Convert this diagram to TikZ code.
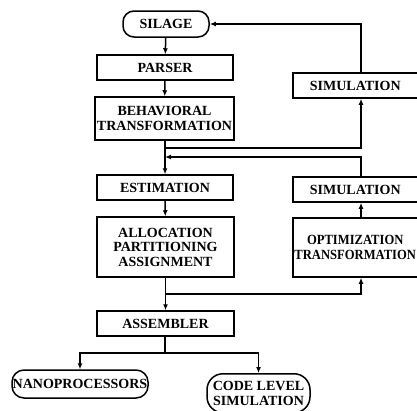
\documentclass[tikz,border=0pt]{standalone}
\usepackage{fontspec}
\usepackage{graphicx}
\setmainfont{Liberation Serif}
\usetikzlibrary{arrows.meta}
\begin{document}
\begin{tikzpicture}[x=1pt,y=-1pt,
  every node/.style={font=\fontsize{14}{14.5}\selectfont\bfseries, align=center, inner sep=0pt},
  box/.style={draw, line width=1.5pt, rectangle},
  term/.style={draw, line width=1.5pt, rounded corners=11pt},
  conn/.style={line width=1.5pt, -{Latex[length=6pt,width=5pt]}},
  plain/.style={line width=1.5pt}]
\useasboundingbox (0,0) rectangle (417,410);
\clip (0,0) rectangle (417,410);
\node[term, minimum width=86pt, minimum height=26pt] (silage) at (166,24) {SILAGE};
\node[box, minimum width=136pt, minimum height=25pt] (parser) at (165,67.5) {PARSER};
\node[box, minimum width=139pt, minimum height=43pt] (behav) at (164.5,118.5) {BEHAVIORAL\\TRANSFORMATION};
\node[box, minimum width=136pt, minimum height=25pt] (est) at (165,187.5) {ESTIMATION};
\node[box, minimum width=137pt, minimum height=60pt] (alloc) at (165.5,247) {ALLOCATION\\PARTITIONING\\ASSIGNMENT};
\node[box, minimum width=137pt, minimum height=25pt] (asm) at (165.5,323.5) {ASSEMBLER};
\node[box, minimum width=140pt, minimum height=25pt, anchor=west] (sim1) at (292,85.5) {\hspace*{-15pt}SIMULATION};
\node[box, minimum width=140pt, minimum height=25pt, anchor=west] (sim2) at (292,189.5) {\hspace*{-15pt}SIMULATION};
\node[box, minimum width=140pt, minimum height=59pt, anchor=west] (opt) at (292,247.5) {\hspace*{-15pt}\scalebox{0.9}[1]{OPTIMIZATION}\\\hspace*{-15pt}\scalebox{0.9}[1]{TRANSFORMATION}};
\node[term, minimum width=136pt, minimum height=28pt, rounded corners=12pt] (nano) at (80,384) {NANOPROCESSORS};
\node[term, minimum width=103pt, minimum height=39pt, rounded corners=16pt, anchor=north] (code) at (258.5,373) {CODE LEVEL\\SIMULATION};

\coordinate (j1) at (165,148);
\coordinate (j2) at (165,157);
\coordinate (j3) at (165,294);
\coordinate (j4) at (165,353);

\draw[conn] (silage) -- (parser);
\draw[conn] (parser) -- (behav);
\draw[conn] (behav.south -| est.north) -- (est);
\draw[conn] (j1) -| (361,0 |- sim1.south);
\draw[conn] (361,0 |- sim1.north) |- (silage.east);
\draw[conn] (361,0 |- sim2.north) |- (j2);
\draw[conn] (est) -- (alloc);
\draw[conn] (alloc.south -| asm.north) -- (asm);
\draw[conn] (j3) -| (361,0 |- opt.south);
\draw[conn] (361,0 |- opt.north) -- (361,0 |- sim2.south);
\draw[plain] (asm.south -| j4) -- (j4);
\draw[conn] (j4) -| (nano.north);
\draw[conn] (j4) -| (code.north);
\end{tikzpicture}
\end{document}
